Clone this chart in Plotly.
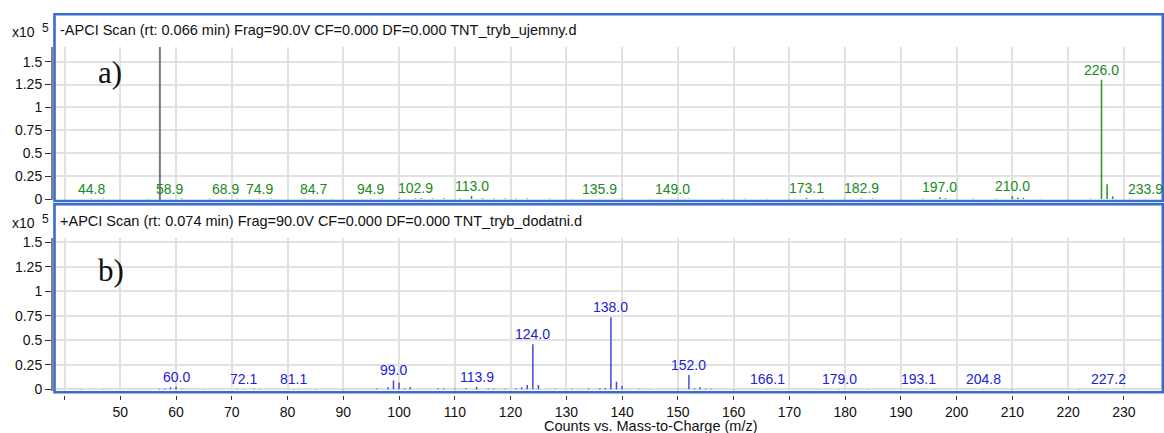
import plotly.graph_objects as go

# ---------------- data (intensities in units of 1e5 counts) ----------------
# Negative-mode APCI spectrum: labelled peaks
neg_label_mz = [44.8, 58.9, 68.9, 74.9, 84.7, 94.9, 102.9, 113.0, 135.9, 149.0,
                173.1, 182.9, 197.0, 210.0, 226.0, 233.9]
neg_label_int = [0.003, 0.003, 0.003, 0.003, 0.003, 0.003, 0.006, 0.033, 0.002, 0.002,
                 0.012, 0.006, 0.020, 0.030, 1.303, 0.003]
# Negative-mode: minor unlabelled peaks
neg_minor_mz = [47.0, 55.0, 61.0, 66.0, 71.0, 77.0, 83.0, 88.0, 97.0, 100.0, 104.0, 106.0,
                108.0, 111.0, 115.0, 117.0, 119.0, 121.0, 123.0, 127.0, 131.0, 140.0,
                145.0, 152.0, 158.0, 162.0, 166.0, 171.0, 176.0, 180.0, 185.0, 190.0,
                194.0, 198.0, 203.0, 207.0, 211.0, 212.0, 215.0, 220.0, 224.0, 227.0,
                228.0, 231.0]
neg_minor_int = [0.004, 0.004, 0.005, 0.004, 0.004, 0.005, 0.004, 0.004, 0.005, 0.006, 0.008, 0.006,
                 0.007, 0.006, 0.008, 0.006, 0.005, 0.006, 0.006, 0.005, 0.004, 0.005,
                 0.004, 0.004, 0.004, 0.004, 0.004, 0.004, 0.005, 0.004, 0.005, 0.004,
                 0.005, 0.010, 0.004, 0.005, 0.016, 0.012, 0.004, 0.004, 0.005, 0.160,
                 0.030, 0.004]

# Positive-mode APCI spectrum: labelled peaks
pos_label_mz = [60.0, 72.1, 81.1, 99.0, 113.9, 124.0, 138.0, 152.0, 166.1, 179.0,
                193.1, 204.8, 227.2]
pos_label_int = [0.027, 0.003, 0.003, 0.090, 0.025, 0.460, 0.735, 0.145, 0.003, 0.003,
                 0.003, 0.003, 0.003]
# Positive-mode: minor unlabelled peaks
pos_minor_mz = [43.0, 47.0, 57.0, 58.0, 59.0, 61.0, 65.0, 71.0, 74.0, 75.0, 82.0, 85.0,
                90.0, 96.0, 98.0, 100.0, 101.0, 102.0, 107.0, 108.0, 110.0, 112.0,
                116.0, 117.0, 119.0, 121.0, 122.0, 123.0, 125.0, 128.0, 131.0, 134.0,
                136.0, 137.0, 139.0, 140.0, 143.0, 145.0, 150.0, 153.0, 154.0, 155.0,
                156.0, 160.0, 168.0, 175.0, 184.0, 196.0, 210.0, 222.0]
pos_minor_int = [0.003, 0.003, 0.006, 0.008, 0.020, 0.006, 0.004, 0.005, 0.005, 0.004, 0.004, 0.004,
                 0.004, 0.008, 0.020, 0.068, 0.010, 0.020, 0.010, 0.010, 0.008, 0.010,
                 0.008, 0.008, 0.005, 0.010, 0.020, 0.044, 0.044, 0.005, 0.006, 0.010,
                 0.010, 0.015, 0.078, 0.034, 0.005, 0.004, 0.006, 0.010, 0.020, 0.008,
                 0.005, 0.004, 0.004, 0.004, 0.004, 0.004, 0.004, 0.004]

cursor_mz = 57.1

neg_title = "-APCI Scan (rt: 0.066 min) Frag=90.0V CF=0.000 DF=0.000 TNT_tryb_ujemny.d"
pos_title = "+APCI Scan (rt: 0.074 min) Frag=90.0V CF=0.000 DF=0.000 TNT_tryb_dodatni.d"
x_title = "Counts vs. Mass-to-Charge (m/z)"

x_ticks = list(range(40, 240, 10))
x_ticktext = [""] + [str(v) for v in x_ticks[1:]]
y_ticks = [0, 0.25, 0.5, 0.75, 1, 1.25, 1.5]

# ---------------- geometry ----------------
W, H = 1164, 433
FONT = "Liberation Sans, Arial, sans-serif"
FRAME = "#3b6cc8"
GRID = "#e1e1e1"

def px_x(p):
    return p / W

def px_y(p):
    return 1 - p / H

x_dom = [px_x(56), px_x(1161)]
top_dom = [px_y(200), px_y(47)]
bot_dom = [px_y(391), px_y(238)]
x_range = [38.47, 236.67]


def sticks(mz, inten):
    xs, ys = [], []
    for m, v in zip(mz, inten):
        xs += [m, m, None]
        ys += [0, v, None]
    return xs, ys


fig = go.Figure()

nx, ny = sticks(neg_minor_mz + neg_label_mz, neg_minor_int + neg_label_int)
fig.add_trace(go.Scatter(x=nx, y=ny, mode="lines", xaxis="x", yaxis="y",
                         line=dict(color="#1f9a1f", width=1.5), hoverinfo="skip",
                         showlegend=False))
px_, py_ = sticks(pos_minor_mz + pos_label_mz, pos_minor_int + pos_label_int)
fig.add_trace(go.Scatter(x=px_, y=py_, mode="lines", xaxis="x2", yaxis="y2",
                         line=dict(color="#4646e4", width=1.5), hoverinfo="skip",
                         showlegend=False))

annotations = []
for m, v in zip(neg_label_mz, neg_label_int):
    annotations.append(dict(x=m, y=v, xref="x", yref="y", text=f"{m:.1f}",
                            showarrow=False, yanchor="bottom", yshift=0,
                            font=dict(family=FONT, size=14, color="#178a17")))
for m, v in zip(pos_label_mz, pos_label_int):
    annotations.append(dict(x=m, y=v, xref="x2", yref="y2", text=f"{m:.1f}",
                            showarrow=False, yanchor="bottom", yshift=0,
                            font=dict(family=FONT, size=14, color="#2121d6")))

# panel headers and multiplier labels
for title, ypix in [(neg_title, 30), (pos_title, 221)]:
    annotations.append(dict(x=px_x(58), y=px_y(ypix), xref="paper", yref="paper",
                            text=title, showarrow=False, xanchor="left", yanchor="middle",
                            font=dict(family=FONT, size=14.5, color="#111111")))
for ypix in [32, 223]:
    annotations.append(dict(x=px_x(10), y=px_y(ypix), xref="paper", yref="paper",
                            text="x10", showarrow=False, xanchor="left", yanchor="middle",
                            font=dict(family=FONT, size=14, color="#111111")))
    annotations.append(dict(x=px_x(40), y=px_y(ypix - 4), xref="paper", yref="paper",
                            text="5", showarrow=False, xanchor="left", yanchor="middle",
                            font=dict(family=FONT, size=12, color="#111111")))

# panel letters
for letter, ypix in [("a)", 73), ("b)", 270)]:
    annotations.append(dict(x=px_x(96), y=px_y(ypix), xref="paper", yref="paper",
                            text=letter, showarrow=False, xanchor="left", yanchor="middle",
                            font=dict(family="Liberation Serif, Times New Roman, serif",
                                      size=31, color="#111111")))

annotations.append(dict(x=px_x(651), y=px_y(426), xref="paper", yref="paper",
                        text=x_title, showarrow=False, xanchor="center", yanchor="middle",
                        borderpad=0,
                        font=dict(family=FONT, size=14.5, color="#111111")))

shapes = [
    # cursor marker in the upper spectrum
    dict(type="line", xref="x", yref="y domain", x0=cursor_mz, x1=cursor_mz, y0=0, y1=1,
         line=dict(color="#7a7a7a", width=2), layer="above"),
    # panel frames
    dict(type="rect", xref="paper", yref="paper", x0=px_x(54.5), x1=px_x(1162.8),
         y0=px_y(201), y1=px_y(14.3), line=dict(color=FRAME, width=2.6), layer="above"),
    dict(type="rect", xref="paper", yref="paper", x0=px_x(54.5), x1=px_x(1162.8),
         y0=px_y(392.2), y1=px_y(204.3), line=dict(color=FRAME, width=2.6), layer="above"),
]

xaxis_common = dict(range=x_range, tickmode="array", tickvals=x_ticks, showgrid=True,
                    gridcolor=GRID, gridwidth=1.5, zeroline=False, domain=x_dom,
                    automargin=False)
yaxis_common = dict(tickmode="array", tickvals=y_ticks, showgrid=True, gridcolor=GRID,
                    gridwidth=1.5, zeroline=False, anchor="free", position=px_x(52),
                    showline=True, linecolor="#808080", linewidth=2, automargin=False,
                    ticks="outside", ticklen=6, tickwidth=1.3, tickcolor="#333333",
                    tickfont=dict(family=FONT, size=14, color="#111111"))

fig.update_layout(
    width=W, height=H,
    autosize=False,
    margin=dict(l=0, r=0, t=0, b=0, pad=0, autoexpand=False),
    paper_bgcolor="white", plot_bgcolor="white",
    font=dict(family=FONT, size=14, color="#111111"),
    showlegend=False,
    xaxis=dict(**xaxis_common, anchor="y", showticklabels=False, ticks=""),
    yaxis=dict(**yaxis_common, domain=top_dom, range=[-0.0109, 1.6607]),
    xaxis2=dict(**xaxis_common, anchor="free", position=px_y(395),
                ticktext=x_ticktext, ticks="outside", ticklen=4, tickwidth=1.3,
                tickcolor="#333333", showline=False,
                tickfont=dict(family=FONT, size=14, color="#111111")),
    yaxis2=dict(**yaxis_common, domain=bot_dom, range=[-0.0173, 1.5439]),
    annotations=annotations,
    shapes=shapes,
)

fig.write_html("out.html")
